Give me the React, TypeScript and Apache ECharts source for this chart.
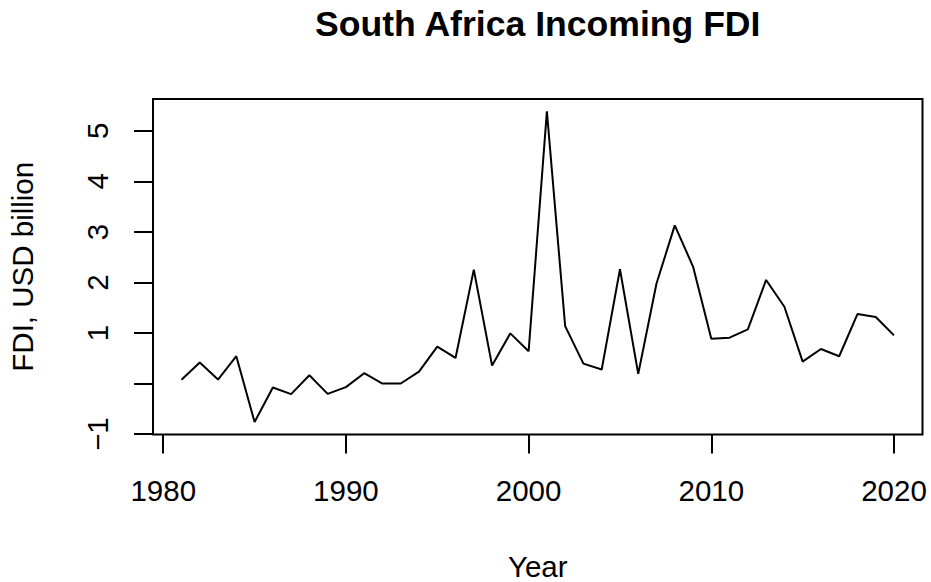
import React, { useEffect, useRef } from "react";
import * as echarts from "echarts";

// Annual inward FDI to South Africa, USD billion
const years: number[] = [
  1981, 1982, 1983, 1984, 1985, 1986, 1987, 1988, 1989, 1990,
  1991, 1992, 1993, 1994, 1995, 1996, 1997, 1998, 1999, 2000,
  2001, 2002, 2003, 2004, 2005, 2006, 2007, 2008, 2009, 2010,
  2011, 2012, 2013, 2014, 2015, 2016, 2017, 2018, 2019, 2020,
];
const fdi: number[] = [
  0.073, 0.414, 0.079, 0.54, -0.763, -0.079, -0.21, 0.164, -0.204, -0.072,
  0.204, 0.0, 0.0, 0.237, 0.73, 0.506, 2.255, 0.355, 0.993, 0.638,
  5.385, 1.137, 0.394, 0.276, 2.262, 0.191, 1.979, 3.13, 2.314, 0.888,
  0.907, 1.071, 2.05, 1.519, 0.434, 0.684, 0.54, 1.374, 1.315, 0.953,
];
const xTicks: number[] = [1980, 1990, 2000, 2010, 2020];
const yTicks: number[] = [-1, 0, 1, 2, 3, 4, 5];
const yLabelled: number[] = [-1, 1, 2, 3, 4, 5];

const TITLE = "South Africa Incoming FDI";
const X_NAME = "Year";
const Y_NAME = "FDI, USD billion";

const FONT = "'Liberation Sans', Arial, Helvetica, sans-serif";

// pad a range by 4% on each side, as base graphics does
function padded(values: number[]): [number, number] {
  const lo = Math.min(...values);
  const hi = Math.max(...values);
  const d = (hi - lo) * 0.04;
  return [lo - d, hi + d];
}

export default function App() {
  const ref = useRef<HTMLDivElement>(null);

  useEffect(() => {
    if (!ref.current) return;
    const chart = echarts.init(ref.current, null, { renderer: "svg" });
    const [xMin, xMax] = padded(years);
    const [yMin, yMax] = padded(fdi);
    const W = 931;
    const H = 582;
    const grid = { left: 153, top: 99, right: 8.5, bottom: 147.5 };
    const cx = grid.left + (W - grid.left - grid.right) / 2;
    const cy = grid.top + (H - grid.top - grid.bottom) / 2;

    chart.setOption({
      animation: false,
      backgroundColor: "#ffffff",
      grid: {
        ...grid,
        show: true,
        borderColor: "#000000",
        borderWidth: 2,
        backgroundColor: "transparent",
      },
      xAxis: {
        type: "value",
        min: xMin,
        max: xMax,
        splitLine: { show: false },
        axisLine: { show: false, onZero: false },
        axisTick: {
          show: true,
          inside: false,
          length: 19,
          customValues: xTicks,
          lineStyle: { color: "#000000", width: 2 },
        },
        axisLabel: {
          customValues: xTicks,
          margin: 56,
          verticalAlign: "middle",
          color: "#000000",
          fontFamily: FONT,
          fontSize: 29.5,
          formatter: (v: number) => String(v),
        },
      },
      yAxis: {
        type: "value",
        min: yMin,
        max: yMax,
        splitLine: { show: false },
        axisLine: { show: false, onZero: false },
        axisTick: {
          show: true,
          inside: false,
          length: 19,
          customValues: yTicks,
          lineStyle: { color: "#000000", width: 2 },
        },
        axisLabel: {
          customValues: yLabelled,
          rotate: 90,
          margin: 56,
          align: "center",
          verticalAlign: "middle",
          color: "#000000",
          fontFamily: FONT,
          fontSize: 29.5,
          formatter: (v: number) => (v < 0 ? "\u2212" + String(-v) : String(v)),
        },
      },
      series: [
        {
          type: "line",
          data: years.map((y, i) => [y, fdi[i]]),
          showSymbol: false,
          symbol: "none",
          lineStyle: { color: "#000000", width: 2 },
          clip: false,
        },
      ],
      graphic: [
        {
          type: "text",
          x: cx,
          y: 24,
          style: {
            text: TITLE,
            fontFamily: FONT,
            fontSize: 35.6,
            fontWeight: "bold",
            fill: "#000000",
            textAlign: "center",
            textVerticalAlign: "middle",
          },
        },
        {
          type: "text",
          x: cx,
          y: 566,
          style: {
            text: X_NAME,
            fontFamily: FONT,
            fontSize: 29.5,
            fill: "#000000",
            textAlign: "center",
            textVerticalAlign: "middle",
          },
        },
        {
          type: "text",
          x: 22,
          y: cy,
          rotation: Math.PI / 2,
          style: {
            text: Y_NAME,
            fontFamily: FONT,
            fontSize: 29.5,
            fill: "#000000",
            textAlign: "center",
            textVerticalAlign: "middle",
          },
        },
      ],
    });

    return () => chart.dispose();
  }, []);

  return (
    <div
      ref={ref}
      style={{ position: "fixed", left: 0, top: 0, width: 931, height: 582 }}
    />
  );
}
